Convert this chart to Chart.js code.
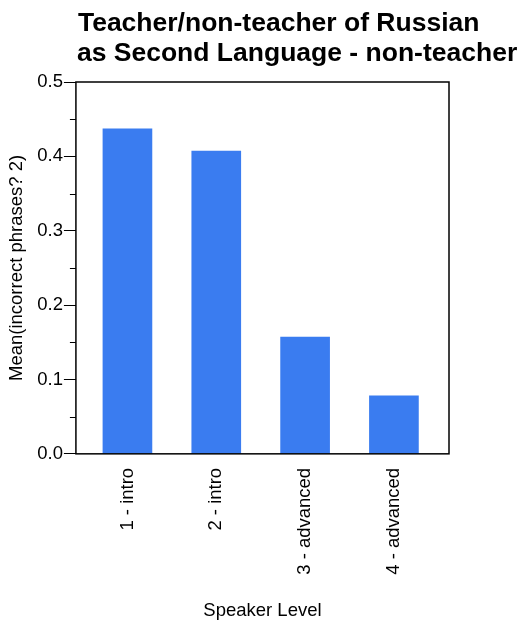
<!DOCTYPE html>
<html>
<head>
<meta charset="UTF-8">
<title>Teacher/non-teacher of Russian</title>
<script src="https://cdn.jsdelivr.net/npm/chart.js@4"></script>
<style>
  html, body { margin: 0; padding: 0; background: #fff; }
  #wrap { width: 521px; height: 625px; }
</style>
</head>
<body>
<div id="wrap"><canvas id="myChart" width="521" height="625"></canvas></div>
<script>
// chart data
var categories = ['1 - intro', '2 - intro', '3 - advanced', '4 - advanced'];
var means = [0.437, 0.407, 0.157, 0.078];
var yTicks = [0, 0.1, 0.2, 0.3, 0.4, 0.5];
var titleLines = ['Teacher/non-teacher of Russian', 'as Second Language - non-teacher'];

var FONT = '"Liberation Sans", Arial, sans-serif';
var FS = 18.5;

// frame, minor ticks and the two-line title
var framePlugin = {
  id: 'frame',
  afterDraw: function (chart) {
    var ctx = chart.ctx, a = chart.chartArea, ys = chart.scales.y;
    ctx.save();
    ctx.strokeStyle = '#000';
    ctx.lineWidth = 1.5;
    ctx.strokeRect(a.left, a.top, a.right - a.left, a.bottom - a.top);
    ctx.lineWidth = 1;
    for (var v = 0.05; v < 0.5; v += 0.1) {
      var py = Math.round(ys.getPixelForValue(v)) + 0.5;
      ctx.beginPath();
      ctx.moveTo(a.left - 6, py);
      ctx.lineTo(a.left, py);
      ctx.stroke();
    }
    ctx.fillStyle = '#000';
    ctx.font = 'bold 26.5px ' + FONT;
    ctx.textBaseline = 'alphabetic';
    ctx.textAlign = 'left';
    ctx.fillText(titleLines[0], a.left + 2, 31);
    ctx.fillText(titleLines[1], a.left + 1, 61);
    ctx.restore();
  }
};

var myChart = new Chart(document.getElementById('myChart'), {
  type: 'bar',
  data: {
    datasets: [{
      data: means.map(function (m, i) { return { x: i, y: m }; }),
      backgroundColor: '#3a7cf0',
      borderWidth: 0,
      barThickness: 49
    }]
  },
  options: {
    responsive: false,
    animation: false,
    layout: { padding: { top: 82, right: 72, left: 2, bottom: 3 } },
    plugins: {
      legend: { display: false },
      tooltip: { enabled: false },
      title: { display: false }
    },
    scales: {
      x: {
        type: 'linear',
        offset: false,
        grace: 0,
        min: -0.58,
        max: 3.62,
        afterBuildTicks: function (scale) {
          scale.ticks = categories.map(function (c, i) { return { value: i }; });
        },
        grid: { display: false },
        border: { display: false },
        ticks: {
          color: '#000',
          font: { family: FONT, size: FS },
          minRotation: 90,
          maxRotation: 90,
          padding: 6,
          callback: function (v) { return categories[v]; }
        },
        title: {
          display: true,
          text: 'Speaker Level',
          color: '#000',
          font: { family: FONT, size: FS },
          padding: { top: 19, bottom: 0 }
        }
      },
      y: {
        min: 0,
        max: 0.5,
        afterBuildTicks: function (scale) {
          scale.ticks = yTicks.map(function (v) { return { value: v }; });
        },
        grid: {
          drawOnChartArea: false,
          tickLength: 12,
          tickColor: '#000'
        },
        border: { display: false },
        ticks: {
          color: '#000',
          font: { family: FONT, size: FS },
          padding: 1,
          callback: function (v) { return v.toFixed(1); }
        },
        title: {
          display: true,
          text: 'Mean(incorrect phrases? 2)',
          color: '#000',
          font: { family: FONT, size: FS },
          padding: { top: 4, bottom: 8 }
        }
      }
    }
  },
  plugins: [framePlugin]
});
</script>
</body>
</html>
